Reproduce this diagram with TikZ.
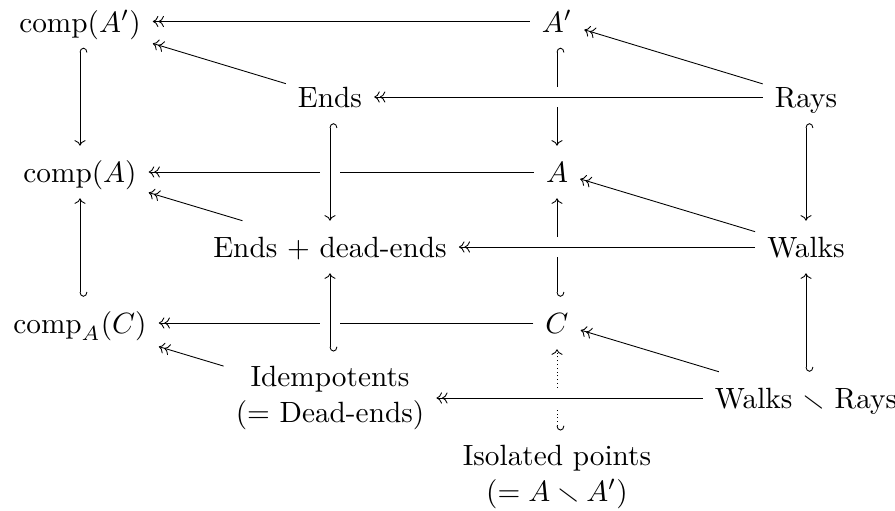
\documentclass[tikz,border=0pt]{standalone}
\usepackage{amsmath,amssymb}
\usepackage{tikz}
\usetikzlibrary{arrows.meta}
\tikzset{
    obj/.style={text height=2.2ex, text depth=0.5ex, inner xsep=4pt, inner ysep=3pt},
    objs/.style={align=center, inner xsep=4pt, inner ysep=5pt},
    tip/.tip={Computer Modern Rightarrow[length=1.9pt, width=3.8pt]},
    epi/.style={-{tip[]tip[]}},
    hookdn/.style={{Hooks[right, length=1.6pt, width=5pt]}-{tip[]}},
    hookup/.style={{Hooks[left, length=1.6pt, width=5pt]}-{tip[]}},
    crossover/.style={preaction={draw=white, line width=7pt, arrows=-}},
}

\begin{document}
\begin{tikzpicture}[line width=0.3pt]
    \useasboundingbox (0,0) rectangle (10.74,6.12);
    % back face
    \node[obj] (cAp) at (0.96,5.862) {$\mathrm{comp}(A')$};
    \node[obj] (Ap) at (6.684,5.862) {$A'$};
    \node[obj] (cA) at (0.96,4.056) {$\mathrm{comp}(A)$};
    \node[obj] (A) at (6.684,4.056) {$A$};
    \node[obj] (cC) at (0.96,2.244) {$\mathrm{comp}_A(C)$};
    \node[obj] (C) at (6.684,2.244) {$C$};
    % front face
    \node[obj] (ends) at (3.96,4.956) {Ends};
    \node[obj] (rays) at (9.672,4.956) {Rays};
    \node[obj] (ed) at (3.96,3.156) {Ends + dead-ends};
    \node[obj] (walks) at (9.672,3.156) {Walks};
    \node[objs] (idem) at (3.96,1.344) {Idempotents\\(= Dead-ends)};
    \node[obj] (wr) at (9.672,1.344) {Walks $\smallsetminus$ Rays};
    \node[objs] (iso) at (6.684,0.396) {Isolated points\\$(= A \smallsetminus A')$};

    \draw[epi] (Ap) -- (cAp);
    \draw[epi] (A) -- (cA);
    \draw[epi] (C) -- (cC);
    \draw[hookdn] (cAp) -- (cA);
    \draw[hookup] (cC) -- (cA);
    \draw[hookdn] (Ap) -- (A);
    \draw[hookup] (C) -- (A);
    \draw[hookup, densely dotted] (iso) -- (C);

    \draw[epi] (ends) -- (cAp);
    \draw[epi] (rays) -- (Ap);
    \draw[epi] (ed) -- (cA);
    \draw[epi] (walks) -- (A);
    \draw[epi] (idem) -- (cC);
    \draw[epi] (wr) -- (C);

    % front lines pass over the back ones
    \draw[hookdn, crossover] (ends) -- (ed);
    \draw[hookup, crossover] (idem) -- (ed);
    \draw[hookdn] (rays) -- (walks);
    \draw[hookup] (wr) -- (walks);
    \draw[epi, crossover] (rays) -- (ends);
    \draw[epi, crossover] (walks) -- (ed);
    \draw[epi, crossover] (wr) -- (idem);
\end{tikzpicture}
\end{document}
